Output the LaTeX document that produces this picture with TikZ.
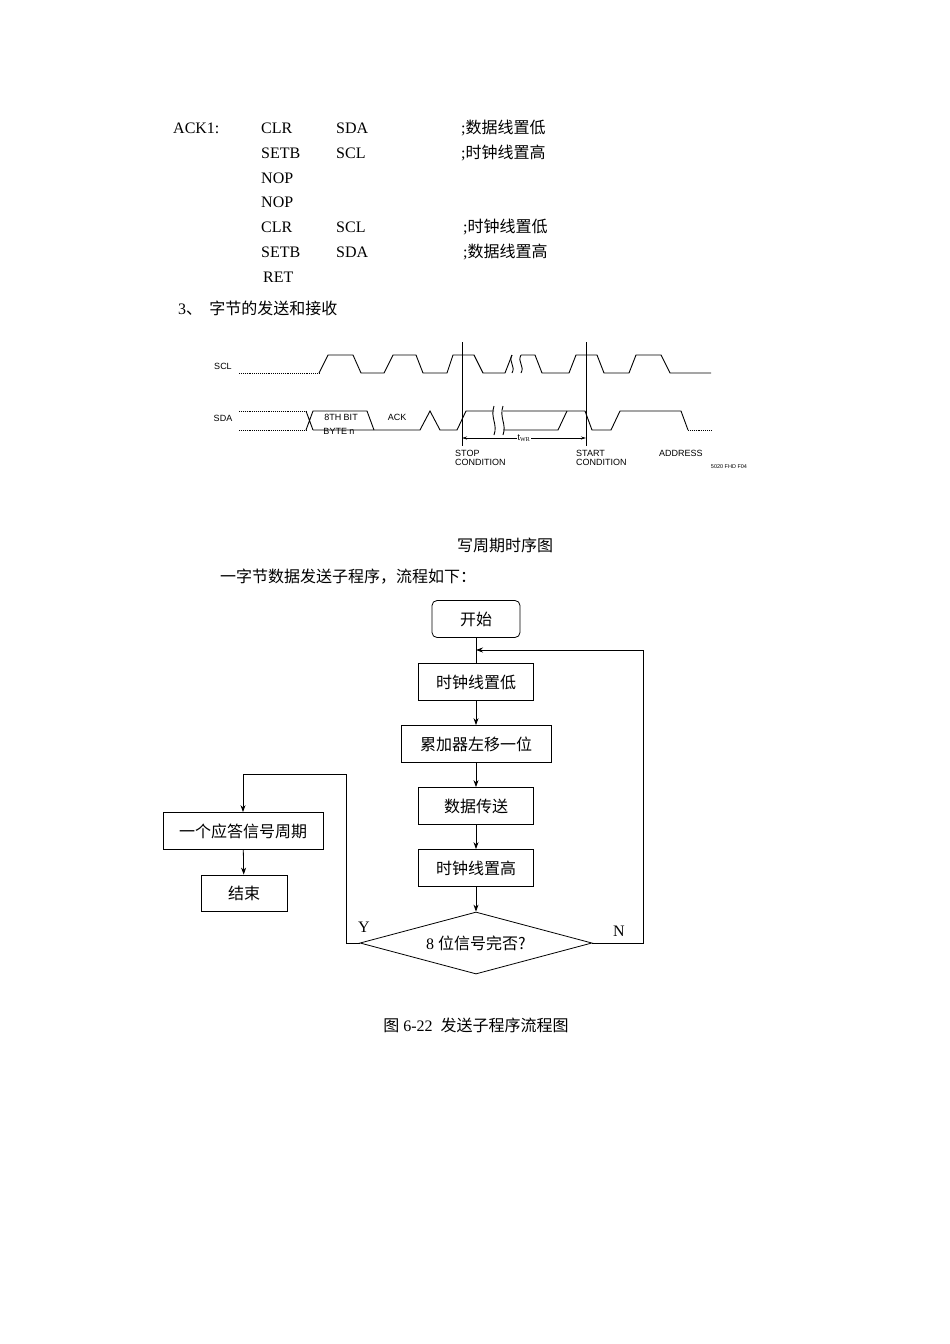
\documentclass[tikz,border=0pt]{standalone}
\usepackage{fontspec}
\setmainfont{Liberation Serif}
\setsansfont{Liberation Sans}
\newfontfamily\cjk{Noto Sans CJK SC}
\usetikzlibrary{shapes.geometric,arrows.meta}
\tikzset{
  txt/.style={anchor=west,inner sep=0,font=\fontsize{16}{19}\selectfont},
  box/.style={draw,thick,minimum height=37,inner sep=0,font=\fontsize{16}{19}\selectfont\cjk},
  tag/.style={inner sep=0,font=\sffamily\fontsize{9}{9.5}\selectfont,align=left},
  flow/.style={thick,-{Stealth[length=7,width=5]}},
  wave/.style={line width=0.9pt}
}
\begin{document}
\begin{tikzpicture}[x=1pt,y=-1pt]
\useasboundingbox (0,0) rectangle (950,1344);
% code listing
\node[txt] (l1) at (173,128) {ACK1:};
\node[txt] (c1) at (261,128) {CLR};
\node[txt] (o1) at (336,128) {SDA};
\node[txt] (m1) at (461,128) {;\cjk 数据线置低};
\node[txt] (c2) at (261,153) {SETB};
\node[txt] (o2) at (336,153) {SCL};
\node[txt] (m2) at (461,153) {;\cjk 时钟线置高};
\node[txt] (c3) at (261,178) {NOP};
\node[txt] (c4) at (261,202) {NOP};
\node[txt] (c5) at (261,227) {CLR};
\node[txt] (o5) at (336,227) {SCL};
\node[txt] (m5) at (463,227) {;\cjk 时钟线置低};
\node[txt] (c6) at (261,252) {SETB};
\node[txt] (o6) at (336,252) {SDA};
\node[txt] (m6) at (463,252) {;\cjk 数据线置高};
\node[txt] (c7) at (263,277) {RET};
\node[txt] (sec) at (178,308) {3\cjk 、\ \ 字节的发送和接收};
% timing diagram
\node[tag] (scl) at (223,366) {SCL};
\node[tag] (sda) at (223,418) {SDA};
\draw[wave,densely dotted] (239,373) -- (319,373);
\draw[wave] (319,373) -- (328,355) -- (353,355) -- (361,373) -- (384,373) -- (393,355) -- (416,355) -- (423,373)
  -- (447,373) -- (453,355) -- (474,355) -- (483,373) -- (505,373) -- (512,355);
\draw[wave] (512,355) .. controls (508,362) and (516,366) .. (512,373);
\draw[wave] (521,355) .. controls (517,362) and (525,366) .. (521,373);
\draw[wave] (521,355) -- (535,355) -- (542,373) -- (569,373) -- (576,355) -- (597,355) -- (604,373) -- (629,373)
  -- (636,355) -- (661,355) -- (670,373) -- (711,373);
\draw[wave,densely dotted] (239,411) -- (306,411) (239,430) -- (306,430);
\draw[wave] (306,411) -- (313,430) (306,430) -- (313,411) -- (367,411) -- (374,430);
\draw[wave] (313,430) -- (420,430) -- (430,411) -- (440,430) -- (457,430) -- (466,411) -- (494,411);
\draw[wave] (494,406) .. controls (490,418) and (498,424) .. (494,435);
\draw[wave] (503,406) .. controls (499,418) and (507,424) .. (503,435);
\draw[wave] (503,411) -- (585,411) -- (592,430) -- (611,430) -- (620,411) -- (681,411) -- (688,430);
\draw[wave] (503,430) -- (558,430) -- (567,411);
\draw[wave,densely dotted] (688,430) -- (711,430);
\coordinate (stopT) at (462,342);
\coordinate (stopB) at (462,446);
\coordinate (startT) at (586,342);
\coordinate (startB) at (586,446);
\draw[wave] (stopT) -- (stopB) (startT) -- (startB);
\draw[wave,{Stealth[length=5,width=3]}-{Stealth[length=5,width=3]}] (462,438) -- (586,438)
  node[midway,fill=white,inner sep=1,font=\sffamily\fontsize{9}{9.5}\selectfont] (twr) {t$_{\mathrm{WR}}$};
\node[tag] (bit) at (341,417) {8TH BIT};
\node[tag] (byte) at (339,431) {BYTE n};
\node[tag] (ack) at (397,417) {ACK};
\node[tag,anchor=north west] (stop) at (455,450) {STOP\\CONDITION};
\node[tag,anchor=north west] (start) at (576,450) {START\\CONDITION};
\node[tag,anchor=north west] (addr) at (659,450) {ADDRESS};
\node[tag,font=\sffamily\fontsize{5.5}{6}\selectfont] (fig) at (729,467) {5020 FHD F04};
\node[txt,anchor=center] (cap1) at (505,545) {\cjk 写周期时序图};
\node[txt] (intro) at (220,577) {\cjk 一字节数据发送子程序，流程如下：};
% flowchart
\node[box,rounded corners=5,minimum width=88] (begin) at (476,619) {开始};
\node[box,minimum width=115] (low) at (476,682) {时钟线置低};
\node[box,minimum width=150] (shift) at (476,744) {累加器左移一位};
\node[box,minimum width=115] (send) at (476,806) {数据传送};
\node[box,minimum width=115] (high) at (476,868) {时钟线置高};
\node[box,diamond,aspect=3.7,minimum width=232,minimum height=62] (test) at (476,943) {\rmfamily 8 \cjk 位信号完否?};
\node[box,minimum width=160] (ackc) at (243,831) {一个应答信号周期};
\node[box,minimum width=86,minimum height=36] (stopn) at (244,893) {结束};
\coordinate (join) at (476,650);
\coordinate (nr) at (643,943);
\coordinate (nt) at (643,650);
\coordinate (yl) at (346,943);
\coordinate (yt) at (346,774);
\coordinate (at) at (243,774);
\draw[thick] (begin) -- (low);
\draw[flow] (low) -- (shift);
\draw[flow] (shift) -- (send);
\draw[flow] (send) -- (high);
\draw[flow] (high) -- (test);
\draw[flow] (test.east) -- (nr) -- (nt) -- (join);
\draw[flow] (test.west) -- (yl) -- (yt) -- (at) -- (ackc);
\draw[flow] (ackc) -- (stopn);
\node[txt,anchor=center] (yes) at (364,927) {Y};
\node[txt,anchor=center] (no) at (619,931) {N};
\node[txt,anchor=center] (cap2) at (476,1025) {\cjk 图\rmfamily\ 6-22\ \ \cjk 发送子程序流程图};
\end{tikzpicture}
\end{document}
